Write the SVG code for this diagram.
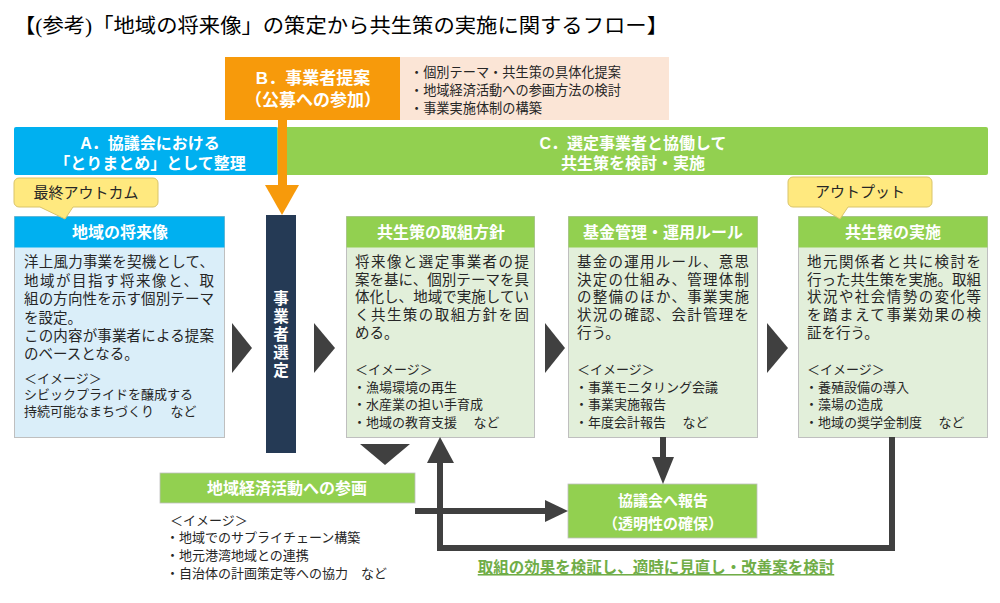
<svg xmlns="http://www.w3.org/2000/svg" width="1000" height="603" viewBox="0 0 1000 603">
<style>
  text { font-family: "Liberation Sans", "Noto Sans CJK JP", sans-serif; }
  .title { font-family: "Liberation Serif", "Noto Sans CJK JP", serif; font-size: 20px; fill: #000; }
  .wb { fill: #fff; font-weight: bold; }
  .hdr { fill: #fff; font-weight: bold; font-size: 16px; text-anchor: middle; }
  .body { fill: #262626; font-size: 14.5px; }
  .sub { fill: #262626; font-size: 13px; }
  .pk { fill: #262626; font-size: 13.2px; }
  .blueBody { fill: #DAEEF9; stroke: #BFBFBF; stroke-width: 1; }
  .greenBody { fill: #E2EFDA; stroke: #BFBFBF; stroke-width: 1; }
  .blueHdr { fill: #00B0F0; }
  .greenHdr { fill: #92D050; }
  .tri { fill: #404040; }
  .conn { fill: none; stroke: #404040; stroke-width: 6; }
  .callout { fill: #FFE97F; stroke: #D9C46A; stroke-width: 1; }
  .callTxt { fill: #262626; font-size: 15px; text-anchor: middle; }
</style>

<text class="title" x="14" y="33" textLength="654" lengthAdjust="spacingAndGlyphs">【(参考)「地域の将来像」の策定から共生策の実施に関するフロー】</text>

<!-- B header -->
<g id="nodeB">
  <rect x="225" y="57" width="175" height="63" fill="#F79A0B"/>
  <rect x="400" y="57" width="269" height="63" fill="#FBE5D6"/>
  <text class="wb" font-size="17" text-anchor="middle"><tspan x="313" y="84">B．事業者提案</tspan><tspan x="313" y="106">（公募への参加）</tspan></text>
  <text class="pk"><tspan x="410" y="77">・個別テーマ・共生策の具体化提案</tspan><tspan x="410" y="95">・地域経済活動への参画方法の検討</tspan><tspan x="410" y="113">・事業実施体制の構築</tspan></text>
</g>

<!-- A header -->
<g id="nodeA">
  <rect x="14" y="127" width="264" height="48" rx="2" fill="#00B0F0"/>
  <text class="wb" font-size="16" text-anchor="middle"><tspan x="150" y="149">A．協議会における</tspan><tspan x="150" y="169">「とりまとめ」として整理</tspan></text>
</g>

<!-- C header -->
<g id="nodeC">
  <rect x="277" y="127" width="711" height="48" rx="2" fill="#92D050"/>
  <text class="wb" font-size="16" text-anchor="middle"><tspan x="633" y="149">C．選定事業者と協働して</tspan><tspan x="633" y="169">共生策を検討・実施</tspan></text>
</g>

<!-- Box 1 -->
<g id="box-vision">
  <rect class="blueBody" x="14.5" y="216.5" width="210" height="221"/>
  <rect class="blueHdr" x="14.5" y="216.5" width="210" height="31"/>
  <text class="hdr" x="120" y="238">地域の将来像</text>
  <text class="body">
    <tspan x="24" y="267" textLength="190" lengthAdjust="spacing">洋上風力事業を契機として、</tspan>
    <tspan x="24" y="286" textLength="190" lengthAdjust="spacing">地域が目指す将来像と、取</tspan>
    <tspan x="24" y="304" textLength="190" lengthAdjust="spacing">組の方向性を示す個別テーマ</tspan>
    <tspan x="24" y="323">を設定。</tspan>
    <tspan x="24" y="341" textLength="190" lengthAdjust="spacing">この内容が事業者による提案</tspan>
    <tspan x="24" y="359">のベースとなる。</tspan>
    <tspan class="sub" x="24" y="383">＜イメージ＞</tspan>
    <tspan class="sub" x="24" y="399">シビックプライドを醸成する</tspan>
    <tspan class="sub" x="24" y="416">持続可能なまちづくり　 など</tspan>
  </text>
</g>

<!-- 事業者選定 -->
<g id="box-selection">
  <rect x="266" y="215" width="30" height="238" fill="#253A55"/>
  <text class="wb" font-size="15.5" text-anchor="middle"><tspan x="281" y="304">事</tspan><tspan x="281" y="322">業</tspan><tspan x="281" y="340">者</tspan><tspan x="281" y="358">選</tspan><tspan x="281" y="376">定</tspan></text>
</g>

<!-- Box 2 -->
<g id="box-policy">
  <rect class="greenBody" x="346.5" y="216.5" width="188" height="221"/>
  <rect class="greenHdr" x="346.5" y="216.5" width="188" height="31"/>
  <text class="hdr" x="441" y="238">共生策の取組方針</text>
  <text class="body">
    <tspan x="355" y="267" textLength="174" lengthAdjust="spacing">将来像と選定事業者の提</tspan>
    <tspan x="355" y="285" textLength="174" lengthAdjust="spacing">案を基に、個別テーマを具</tspan>
    <tspan x="355" y="302" textLength="174" lengthAdjust="spacing">体化し、地域で実施してい</tspan>
    <tspan x="355" y="320" textLength="174" lengthAdjust="spacing">く共生策の取組方針を固</tspan>
    <tspan x="355" y="338">める。</tspan>
    <tspan class="sub" x="355" y="374">＜イメージ＞</tspan>
    <tspan class="sub" x="353" y="392">・漁場環境の再生</tspan>
    <tspan class="sub" x="353" y="409">・水産業の担い手育成</tspan>
    <tspan class="sub" x="353" y="427">・地域の教育支援　 など</tspan>
  </text>
</g>

<!-- Box 3 -->
<g id="box-fund">
  <rect class="greenBody" x="568.5" y="216.5" width="189" height="221"/>
  <rect class="greenHdr" x="568.5" y="216.5" width="189" height="31"/>
  <text class="hdr" x="663" y="238">基金管理・運用ルール</text>
  <text class="body">
    <tspan x="577" y="267" textLength="172" lengthAdjust="spacing">基金の運用ルール、意思</tspan>
    <tspan x="577" y="285" textLength="172" lengthAdjust="spacing">決定の仕組み、管理体制</tspan>
    <tspan x="577" y="302" textLength="172" lengthAdjust="spacing">の整備のほか、事業実施</tspan>
    <tspan x="577" y="320" textLength="172" lengthAdjust="spacing">状況の確認、会計管理を</tspan>
    <tspan x="577" y="338">行う。</tspan>
    <tspan class="sub" x="577" y="374">＜イメージ＞</tspan>
    <tspan class="sub" x="575" y="392">・事業モニタリング会議</tspan>
    <tspan class="sub" x="575" y="409">・事業実施報告</tspan>
    <tspan class="sub" x="575" y="427">・年度会計報告　 など</tspan>
  </text>
</g>

<!-- Box 4 -->
<g id="box-impl">
  <rect class="greenBody" x="798.5" y="216.5" width="189" height="221"/>
  <rect class="greenHdr" x="798.5" y="216.5" width="189" height="31"/>
  <text class="hdr" x="893" y="238">共生策の実施</text>
  <text class="body">
    <tspan x="807" y="267" textLength="174" lengthAdjust="spacing">地元関係者と共に検討を</tspan>
    <tspan x="807" y="285" textLength="174" lengthAdjust="spacing">行った共生策を実施。取組</tspan>
    <tspan x="807" y="302" textLength="174" lengthAdjust="spacing">状況や社会情勢の変化等</tspan>
    <tspan x="807" y="320" textLength="174" lengthAdjust="spacing">を踏まえて事業効果の検</tspan>
    <tspan x="807" y="338">証を行う。</tspan>
    <tspan class="sub" x="807" y="374">＜イメージ＞</tspan>
    <tspan class="sub" x="805" y="392">・養殖設備の導入</tspan>
    <tspan class="sub" x="805" y="409">・藻場の造成</tspan>
    <tspan class="sub" x="805" y="427">・地域の奨学金制度　 など</tspan>
  </text>
</g>

<!-- 地域経済活動への参画 -->
<g id="box-economy">
  <rect x="160" y="473" width="255" height="30" fill="#92D050" stroke="#BFBFBF" stroke-width="0.8"/>
  <text class="hdr" x="287" y="494">地域経済活動への参画</text>
  <text class="sub">
    <tspan x="170" y="525">＜イメージ＞</tspan>
    <tspan x="166" y="542">・地域でのサプライチェーン構築</tspan>
    <tspan x="166" y="560">・地元港湾地域との連携</tspan>
    <tspan x="166" y="578">・自治体の計画策定等への協力　など</tspan>
  </text>
</g>

<!-- 協議会へ報告 -->
<g id="box-report">
  <rect x="568" y="484" width="189" height="54" fill="#92D050" stroke="#BFBFBF" stroke-width="0.8"/>
  <text class="wb" font-size="15" text-anchor="middle"><tspan x="663" y="506">協議会へ報告</tspan><tspan x="663" y="529">（透明性の確保）</tspan></text>
</g>

<!-- bottom label -->
<g id="label-review">
  <text x="656" y="573" font-size="15.5" font-weight="bold" fill="#70AD47" text-anchor="middle" text-decoration="underline">取組の効果を検証し、適時に見直し・改善案を検討</text>
</g>

<!-- Connectors -->
<g id="connectors">
  <polygon class="tri" points="232,323 252,348 232,373"/>
  <polygon class="tri" points="314,323 335,348 314,373"/>
  <polygon class="tri" points="545,323 565,348 545,373"/>
  <polygon class="tri" points="767,323 788,348 767,373"/>
  <polygon class="tri" points="360,444 410,444 385,465"/>
  <polyline class="conn" points="892,437 892,548 440,548 440,460"/>
  <polygon class="tri" points="427,463 454,463 440,437"/>
  <line class="conn" x1="415" y1="511" x2="548" y2="511"/>
  <polygon class="tri" points="545,500 568,511 545,522"/>
  <line class="conn" x1="663" y1="437" x2="663" y2="460"/>
  <polygon class="tri" points="652,457 674,457 663,484"/>
  <rect x="278" y="119" width="9" height="68" fill="#F79A0B"/>
  <polygon points="265,185 299,185 282,215" fill="#F79A0B"/>
</g>

<!-- Callouts -->
<g id="callout-outcome">
  <path class="callout" d="M19,178 H153 A5,5 0 0 1 158,183 V202 A5,5 0 0 1 153,207 H73 L65,219 L40,207 H19 A5,5 0 0 1 14,202 V183 A5,5 0 0 1 19,178 Z"/>
  <text class="callTxt" x="86" y="198">最終アウトカム</text>
</g>
<g id="callout-output">
  <path class="callout" d="M793,177 H927 A5,5 0 0 1 932,182 V202 A5,5 0 0 1 927,207 H848 L840,219 L820,207 H793 A5,5 0 0 1 788,202 V182 A5,5 0 0 1 793,177 Z"/>
  <text class="callTxt" x="860" y="197">アウトプット</text>
</g>
</svg>
